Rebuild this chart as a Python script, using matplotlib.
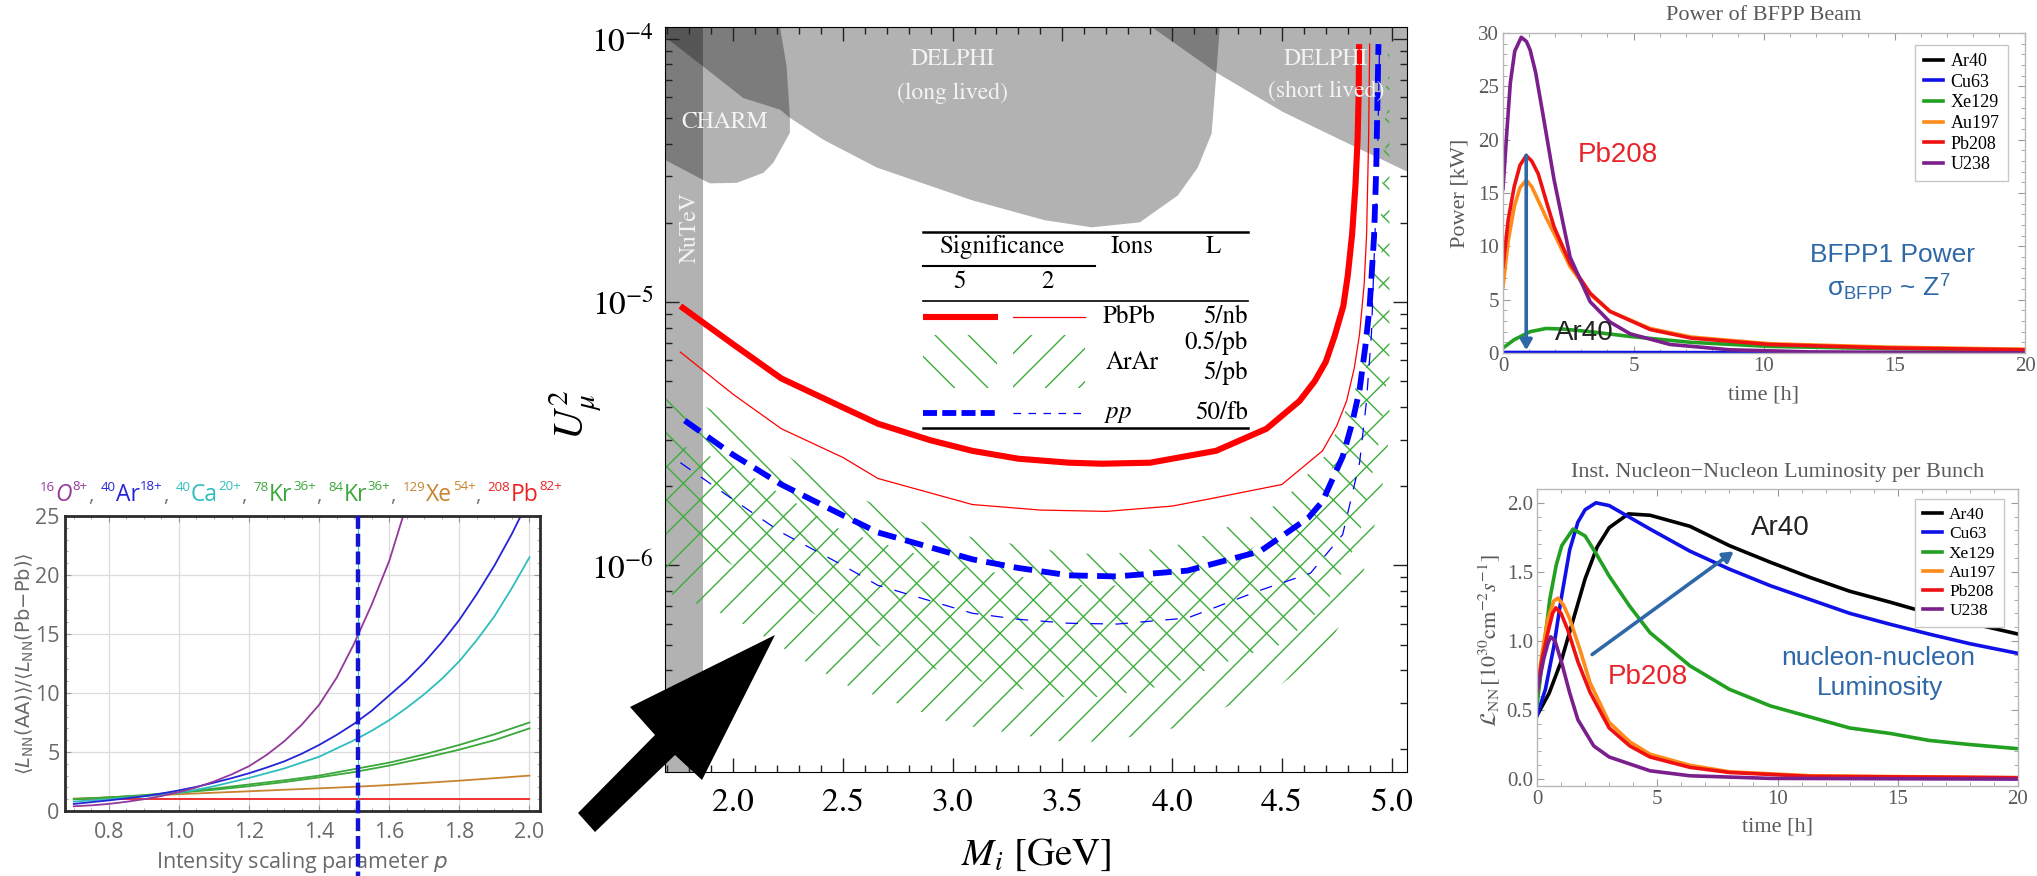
import numpy as np
import matplotlib
matplotlib.use('Agg')
import matplotlib.pyplot as plt
from matplotlib.patches import Polygon, Rectangle
from matplotlib.ticker import MultipleLocator, LogLocator, NullFormatter, FormatStrFormatter

plt.rcParams['mathtext.fontset'] = 'stix'
plt.rcParams['hatch.linewidth'] = 1.0

W, H = 2037, 876
SANS = 'Open Sans'
SERIF = 'STIXGeneral'
TIMES = 'Liberation Serif'
ARIAL = 'Liberation Sans'

# ---------- left panel: luminosity ratio vs intensity scaling p ----------
p_fine = [0.7, 0.75, 0.8, 0.85, 0.9, 0.95, 1.0, 1.05, 1.1, 1.15, 1.2, 1.25, 1.3, 1.35,
          1.4, 1.45, 1.5, 1.55, 1.6, 1.65, 1.7, 1.75, 1.8, 1.85, 1.9, 1.95, 2.0]
p_vals = [0.7, 0.8, 0.9, 1.0, 1.1, 1.2, 1.3, 1.4, 1.5, 1.6, 1.7, 1.8, 1.9, 2.0]
p_O16 = p_fine[:20]
ratio_O16 = [0.4, 0.48, 0.6, 0.78, 1.0, 1.27, 1.6, 2.0, 2.5, 3.1, 3.8, 4.75, 5.9, 7.3,
             9.0, 11.3, 14.2, 17.5, 21.2, 26.0]
ratio_Ar40 = [0.6, 0.75, 0.9, 1.07, 1.25, 1.48, 1.75, 2.05, 2.4, 2.78, 3.2, 3.68, 4.2, 4.85,
              5.6, 6.45, 7.4, 8.5, 9.8, 11.1, 12.6, 14.3, 16.2, 18.4, 20.8, 23.5, 26.5]
ratio_Ca40 = [0.8, 0.9, 1.0, 1.12, 1.25, 1.4, 1.55, 1.8, 2.1, 2.45, 2.8, 3.2, 3.6, 4.1,
              4.6, 5.3, 6.0, 6.8, 7.7, 8.75, 9.9, 11.2, 12.7, 14.5, 16.5, 18.9, 21.5]
ratio_Kr78 = [1.0, 1.15, 1.35, 1.6, 1.9, 2.25, 2.6, 3.0, 3.55, 4.1, 4.8, 5.6, 6.5, 7.5]
ratio_Kr84 = [1.0, 1.15, 1.3, 1.55, 1.8, 2.1, 2.45, 2.85, 3.3, 3.85, 4.5, 5.2, 6.0, 7.0]
ratio_Xe129 = [1.05, 1.15, 1.3, 1.42, 1.55, 1.67, 1.8, 1.92, 2.05, 2.2, 2.38, 2.57, 2.78, 3.0]
ratio_Pb208 = [1.0] * 14
p_chosen = 1.51

title_mass = ['16', '40', '40', '78', '84', '129', '208']
title_elem = ['O', 'Ar', 'Ca', 'Kr', 'Kr', 'Xe', 'Pb']
title_charge = ['8+', '18+', '20+', '36+', '36+', '54+', '82+']
title_colors = ['#93399a', '#2424d8', '#2fbdbd', '#3aa83a', '#3aa83a', '#c8832e', '#ee2222']

# ---------- center panel: U^2 sensitivity vs HNL mass (log10 values) ----------
m_pb5 = [1.76, 2.0, 2.22, 2.5, 2.66, 2.9, 3.09, 3.3, 3.53, 3.68, 3.9, 4.2, 4.43, 4.58, 4.65,
         4.70, 4.74, 4.78, 4.80, 4.82, 4.835, 4.845, 4.85, 4.852]
lu_pb5 = [-5.015, -5.16, -5.29, -5.40, -5.462, -5.525, -5.565, -5.595, -5.61, -5.614, -5.61, -5.565,
          -5.481, -5.376, -5.30, -5.227, -5.13, -5.015, -4.90, -4.742, -4.56, -4.38, -4.2, -4.02]
m_pb2 = [1.76, 2.0, 2.22, 2.5, 2.66, 3.09, 3.4, 3.70, 4.0, 4.18, 4.5, 4.685, 4.75, 4.795, 4.83,
         4.854, 4.875, 4.886, 4.895, 4.90]
lu_pb2 = [-5.19, -5.35, -5.481, -5.59, -5.67, -5.769, -5.79, -5.795, -5.775, -5.746, -5.693, -5.565,
          -5.47, -5.375, -5.25, -5.121, -4.93, -4.742, -4.383, -4.02]
m_pp5 = [1.78, 2.0, 2.22, 2.5, 2.66, 3.09, 3.3, 3.53, 3.75, 4.07, 4.40, 4.62, 4.685, 4.777, 4.82,
         4.854, 4.88, 4.90, 4.92, 4.93, 4.94]
lu_pp5 = [-5.45, -5.58, -5.693, -5.81, -5.875, -5.977, -6.01, -6.038, -6.042, -6.02, -5.947, -5.82,
          -5.757, -5.587, -5.46, -5.333, -5.17, -5.015, -4.75, -4.49, -4.02]
m_pp2 = [1.76, 2.0, 2.22, 2.5, 2.66, 3.09, 3.3, 3.53, 3.75, 4.07, 4.40, 4.63, 4.777, 4.854, 4.885,
         4.908, 4.935, 4.945]
lu_pp2 = [-5.61, -5.75, -5.875, -6.0, -6.076, -6.182, -6.205, -6.22, -6.223, -6.20, -6.095, -6.03,
          -5.883, -5.61, -5.38, -5.121, -4.49, -4.02]

m_ar = [1.69, 2.0, 2.5, 3.0, 3.5, 3.7, 4.0, 4.3, 4.5, 4.7, 4.85, 4.95, 4.99]
lu_ar5_hi = [-5.32, -5.45, -5.72, -5.88, -5.95, -5.96, -5.93, -5.84, -5.76, -5.58, -5.30, -4.7, -3.9]
lu_ar5_lo = [-5.85, -6.0, -6.25, -6.42, -6.50, -6.50, -6.45, -6.35, -6.30, -6.15, -5.9, -5.5, -5.2]
lu_ar2_hi = [-5.52, -5.62, -5.87, -6.0, -6.07, -6.08, -6.05, -5.97, -5.86, -5.68, -5.42, -4.9, -4.0]
lu_ar2_lo = [-6.1, -6.2, -6.45, -6.6, -6.67, -6.67, -6.62, -6.52, -6.45, -6.32, -6.1, -5.75, -5.5]

# excluded regions (outline vertices, mass / log10 U^2)
m_delphi_ll = [1.60, 1.686, 1.873, 2.047, 2.214, 2.259, 2.411, 2.655, 3.092, 3.42, 3.634, 3.853,
               4.026, 4.117, 4.18, 4.198, 4.217, 4.22, 1.60]
lu_delphi_ll = [-3.95, -3.99, -4.111, -4.225, -4.269, -4.30, -4.383, -4.489, -4.614, -4.689, -4.716,
                -4.697, -4.595, -4.489, -4.36, -4.17, -3.955, -3.5, -3.5]
m_delphi_sl = [3.907, 4.203, 4.503, 4.808, 5.08, 5.2, 5.2, 3.907]
lu_delphi_sl = [-3.955, -4.129, -4.277, -4.40, -4.508, -4.55, -3.5, -3.5]
m_charm = [1.60, 2.214, 2.214, 2.244, 2.259, 2.259, 2.183, 2.138, 2.017, 1.895, 1.873, 1.686, 1.60]
lu_charm = [-3.5, -3.5, -3.955, -4.105, -4.30, -4.357, -4.471, -4.509, -4.547, -4.549, -4.54, -4.458, -4.42]
m_nutev = [1.5, 1.863, 1.863, 1.5]
lu_nutev = [-8.0, -8.0, -3.0, -3.0]

# ---------- right panels: BFPP power and NN luminosity vs time ----------
ions = ['Ar40', 'Cu63', 'Xe129', 'Au197', 'Pb208', 'U238']
ion_colors = ['#000000', '#1010e8', '#22a022', '#ff8c1a', '#ee1111', '#7a1f8c']

t_pow = {
    'Ar40': [0, 5, 10, 15, 20],
    'Cu63': [0, 5, 10, 15, 20],
    'Xe129': [0, 0.43, 1.04, 1.65, 2.26, 3.34, 4.87, 7.2, 10.2, 14.8, 20],
    'Au197': [0, 0.2, 0.43, 0.65, 0.89, 1.1, 1.35, 1.65, 1.96, 2.57, 3.34, 4.1, 5.64, 7.2, 10.2, 14.8, 20],
    'Pb208': [0, 0.2, 0.43, 0.65, 0.89, 1.1, 1.35, 1.65, 1.96, 2.57, 3.34, 4.1, 5.64, 7.2, 10.2, 14.8, 20],
    'U238': [0, 0.14, 0.28, 0.45, 0.7, 0.9, 1.04, 1.25, 1.5, 1.96, 2.57, 3.34, 4.1, 4.87, 6.4, 8.7, 11.8, 20],
}
power_kw = {
    'Ar40': [0.01, 0.01, 0.01, 0.01, 0.01],
    'Cu63': [0.05, 0.04, 0.03, 0.02, 0.02],
    'Xe129': [0.47, 1.25, 2.0, 2.3, 2.25, 2.0, 1.55, 1.0, 0.62, 0.4, 0.3],
    'Au197': [6.2, 10.5, 13.7, 15.5, 16.2, 15.6, 14.3, 12.7, 11.2, 8.1, 5.5, 3.9, 2.3, 1.5, 0.87, 0.55, 0.35],
    'Pb208': [8.1, 12.5, 15.6, 17.6, 18.5, 18.0, 16.8, 14.3, 11.8, 8.4, 5.6, 3.9, 2.2, 1.4, 0.8, 0.47, 0.3],
    'U238': [15.4, 20.5, 25.3, 28.3, 29.6, 29.2, 28.4, 26.3, 22.8, 16.2, 9.0, 4.8, 2.9, 1.8, 0.8, 0.3, 0.1, 0.0],
}

t_lum = {
    'Ar40': [0, 0.5, 1.0, 1.5, 2.0, 2.5, 3.0, 3.8, 4.7, 6.36, 8.0, 9.7, 11.35, 13.0, 14.7, 16.3, 18.0, 20],
    'Cu63': [0, 0.35, 0.7, 1.0, 1.36, 1.7, 2.0, 2.45, 3.0, 3.8, 4.7, 6.36, 8.0, 9.7, 11.35, 13.0, 14.7, 16.3, 18.0, 20],
    'Xe129': [0, 0.25, 0.53, 0.8, 1.03, 1.5, 2.0, 2.5, 3.0, 3.86, 4.7, 6.36, 8.0, 9.7, 11.35, 13.0, 14.7, 16.3, 18.0, 20],
    'Au197': [0, 0.2, 0.45, 0.7, 0.87, 1.1, 1.36, 1.8, 2.2, 3.0, 3.86, 4.7, 6.36, 8.0, 11.35, 20],
    'Pb208': [0, 0.2, 0.45, 0.65, 0.78, 1.0, 1.28, 1.7, 2.2, 3.0, 3.86, 4.7, 6.36, 8.0, 11.35, 20],
    'U238': [0, 0.28, 0.45, 0.57, 0.75, 1.03, 1.35, 1.7, 2.36, 3.0, 4.7, 6.36, 9.7, 20],
}
lum_nn = {
    'Ar40': [0.46, 0.62, 0.85, 1.15, 1.45, 1.68, 1.82, 1.92, 1.91, 1.83, 1.69, 1.57, 1.46, 1.36, 1.28, 1.2, 1.13, 1.05],
    'Cu63': [0.46, 0.65, 0.96, 1.3, 1.66, 1.86, 1.95, 2.0, 1.98, 1.9, 1.81, 1.65, 1.52, 1.40, 1.30, 1.2, 1.12, 1.05, 0.98, 0.91],
    'Xe129': [0.53, 0.9, 1.3, 1.55, 1.69, 1.81, 1.76, 1.62, 1.47, 1.25, 1.06, 0.82, 0.65, 0.53, 0.45, 0.37, 0.33, 0.28, 0.25, 0.22],
    'Au197': [0.63, 0.9, 1.16, 1.29, 1.31, 1.26, 1.16, 0.93, 0.70, 0.41, 0.27, 0.18, 0.10, 0.053, 0.024, 0.01],
    'Pb208': [0.63, 0.86, 1.06, 1.2, 1.24, 1.2, 1.08, 0.85, 0.63, 0.37, 0.24, 0.16, 0.085, 0.048, 0.02, 0.01],
    'U238': [0.63, 0.87, 0.98, 1.03, 1.0, 0.84, 0.63, 0.43, 0.24, 0.16, 0.06, 0.024, 0.005, 0.0],
}


def box(l, t, r, b):
    # pixel box (left, top, right, bottom) -> figure fraction rect
    return [l / W, 1 - b / H, (r - l) / W, (b - t) / H]


fig = plt.figure(figsize=(W / 100, H / 100), dpi=100)
fig.patch.set_facecolor('white')

# ================= left panel =================
GRAYT = '#6a6a6a'
axl = fig.add_axes(box(65, 516, 540, 811))
axl.plot(p_vals, ratio_Pb208, color=title_colors[6], lw=1.3)
axl.plot(p_vals, ratio_Xe129, color=title_colors[5], lw=1.3)
axl.plot(p_vals, ratio_Kr84, color=title_colors[4], lw=1.3)
axl.plot(p_vals, ratio_Kr78, color=title_colors[3], lw=1.3)
axl.plot(p_fine, ratio_Ca40, color=title_colors[2], lw=1.3)
axl.plot(p_fine, ratio_Ar40, color=title_colors[1], lw=1.3)
axl.plot(p_O16, ratio_O16, color=title_colors[0], lw=1.3)
axl.axvline(p_chosen, color='#2ec4d6', lw=0.8)
axl.plot([p_chosen, p_chosen], [25, -5.6], color='#1414d0', lw=3.2, ls=(0, (2.9, 1.1)), clip_on=False, zorder=6)
axl.set_xlim(0.675, 2.03)
axl.set_ylim(0, 25)
axl.xaxis.set_major_locator(MultipleLocator(0.2))
axl.xaxis.set_minor_locator(MultipleLocator(0.05))
axl.xaxis.set_major_formatter(FormatStrFormatter('%.1f'))
axl.yaxis.set_major_locator(MultipleLocator(5))
axl.yaxis.set_minor_locator(MultipleLocator(1))
axl.grid(True, which='major', color='#dcdcdc', lw=0.9)
axl.tick_params(which='both', direction='in', top=True, right=True, color='#999999',
                labelcolor=GRAYT, labelsize=15.5, labelfontfamily=SANS)
axl.tick_params(which='major', length=4, pad=8)
axl.tick_params(which='minor', length=2)
axl.tick_params(axis='y', pad=4)
for s in axl.spines.values():
    s.set_color('#2b2b2b')
    s.set_linewidth(2.0)
axl.set_xlabel('Intensity scaling parameter $p$', fontsize=15.5, color=GRAYT, family=SANS,
               math_fontfamily='dejavusans', va='center')
axl.xaxis.set_label_coords(0.499, -0.176)
axl.set_ylabel(r'$\langle L_{\mathrm{NN}}(\mathrm{AA})\rangle/\langle L_{\mathrm{NN}}(\mathrm{Pb{-}Pb})\rangle$',
               fontsize=14, color=GRAYT, math_fontfamily='dejavusans', va='center')
axl.yaxis.set_label_coords(-0.084, 0.498)

# coloured title row, built piece by piece and centred over the panel
rend = fig.canvas.get_renderer()
pieces = []
for i in range(len(title_elem)):
    col = title_colors[i]
    pieces.append((title_mass[i], col, 9.5, -10, 'normal', 0.5))
    pieces.append((title_elem[i], col, 16.5, 0, 'italic' if title_elem[i] == 'O' else 'normal', 0.5))
    pieces.append((title_charge[i], col, 9.5, -11, 'normal', 0))
    if i < len(title_elem) - 1:
        pieces.append((',', '#777777', 15, 0, 'normal', 7))
widths = []
for s, col, fs, dy, st, gap in pieces:
    t = fig.text(0, 0, s, fontsize=fs, family=SANS, style=st)
    widths.append(t.get_window_extent(rend).width + gap)
    t.remove()
x = 301.0 - sum(widths) / 2
base = 501.0
for (s, col, fs, dy, st, gap), w in zip(pieces, widths):
    fig.text(x / W, 1 - (base + dy) / H, s, color=col, fontsize=fs, family=SANS, style=st, va='baseline')
    x += w

# ================= center panel =================
GREEN = '#3dad3d'
axc = fig.add_axes(box(665, 27, 1407, 772))
axc.set_yscale('log')
shade = dict(facecolor='black', alpha=0.30, lw=0, zorder=1)
axc.fill(m_nutev, 10.0 ** np.array(lu_nutev), **shade)
axc.fill(m_charm, 10.0 ** np.array(lu_charm), **shade)
axc.fill(m_delphi_ll, 10.0 ** np.array(lu_delphi_ll), **shade)
axc.fill(m_delphi_sl, 10.0 ** np.array(lu_delphi_sl), **shade)

axc.fill_between(m_ar, 10.0 ** np.array(lu_ar5_lo), 10.0 ** np.array(lu_ar5_hi), facecolor='none',
                 edgecolor=GREEN, hatch='\\', lw=0, zorder=2)
axc.fill_between(m_ar, 10.0 ** np.array(lu_ar2_lo), 10.0 ** np.array(lu_ar2_hi), facecolor='none',
                 edgecolor=GREEN, hatch='/', lw=0, zorder=2)

axc.plot(m_pb5, 10.0 ** np.array(lu_pb5), color='#ff0000', lw=4.4, zorder=4, solid_capstyle='butt')
axc.plot(m_pb2, 10.0 ** np.array(lu_pb2), color='#ff0000', lw=0.9, zorder=4)
axc.plot(m_pp5, 10.0 ** np.array(lu_pp5), color='#0000ff', lw=4.2, ls=(0, (3.2, 1.6)), zorder=4)
axc.plot(m_pp2, 10.0 ** np.array(lu_pp2), color='#0000ff', lw=0.9, ls=(0, (10, 10)), zorder=4)

axc.set_xlim(1.69, 5.07)
axc.set_ylim(10 ** -6.785, 10 ** -3.955)
axc.set_yticks([1e-4, 1e-5, 1e-6], labels=[r'$10^{-4}$', r'$10^{-5}$', r'$10^{-6}$'])
axc.yaxis.set_minor_locator(LogLocator(base=10, subs=np.arange(2, 10)))
axc.yaxis.set_minor_formatter(NullFormatter())
axc.xaxis.set_major_locator(MultipleLocator(0.5))
axc.xaxis.set_minor_locator(MultipleLocator(0.1))
axc.xaxis.set_major_formatter(FormatStrFormatter('%.1f'))
axc.tick_params(which='both', direction='in', top=True, right=True, labelsize=24,
                labelfontfamily=SERIF, color='#222222', width=1.0)
axc.tick_params(which='major', length=10)
axc.tick_params(which='minor', length=5)
axc.tick_params(axis='x', pad=12)
axc.tick_params(axis='y', pad=8)
axc.set_xlabel(r'$M_i$ [GeV]', fontsize=28, family=SERIF, va='center')
axc.xaxis.set_label_coords(0.5, -0.111)
axc.set_ylabel(r'$U_\mu^2$', fontsize=30, va='center', rotation=90)
axc.yaxis.set_label_coords(-0.121, 0.479)

lab = dict(color='#f4f4f4', family=SERIF, fontsize=17, ha='center', va='center', zorder=5)
axc.text(1.96, 10 ** -4.318, 'CHARM', **lab)
axc.text(3.0, 10 ** -4.076, 'DELPHI', **lab)
axc.text(3.0, 10 ** -4.208, '(long lived)', **lab)
axc.text(4.70, 10 ** -4.076, 'DELPHI', **lab)
axc.text(4.70, 10 ** -4.200, '(short lived)', **lab)
axc.text(1.804, 10 ** -4.716, 'NuTeV', rotation=90, **lab)

# ================= right top panel =================
GRAYL = '#5a5a5a'


def frame_style(ax):
    for s in ax.spines.values():
        s.set_color('#b8b8b8')
        s.set_linewidth(1.0)
    ax.tick_params(which='both', direction='in', top=True, right=True, color='#9a9a9a',
                   labelcolor=GRAYL, labelsize=15, labelfontfamily=TIMES, pad=3)
    ax.tick_params(which='major', length=5)
    ax.tick_params(which='minor', length=3)


axp = fig.add_axes(box(1503, 33, 2025, 353))
for ion, col in zip(ions, ion_colors):
    axp.plot(t_pow[ion], power_kw[ion], color=col, lw=2.6, label=ion)
axp.set_xlim(0, 20)
axp.set_ylim(0, 30)
axp.xaxis.set_major_locator(MultipleLocator(5))
axp.xaxis.set_minor_locator(MultipleLocator(1))
axp.yaxis.set_major_locator(MultipleLocator(5))
axp.yaxis.set_minor_locator(MultipleLocator(1))
frame_style(axp)
axp.text(0.5, 1.056, 'Power of BFPP Beam', transform=axp.transAxes, ha='center', va='center',
         family=TIMES, fontsize=16, color=GRAYL)
axp.set_xlabel('time [h]', family=TIMES, fontsize=16, color=GRAYL, va='center')
axp.xaxis.set_label_coords(0.5, -0.131)
axp.set_ylabel('Power [kW]', family=TIMES, fontsize=16, color=GRAYL, va='center')
axp.yaxis.set_label_coords(-0.082, 0.5)
axp.legend(loc='upper right', bbox_to_anchor=(0.967, 0.9625), prop={'family': TIMES, 'size': 13},
           fancybox=False, edgecolor='#c8c8c8', handlelength=1.1, handletextpad=0.4,
           labelspacing=0.2, borderpad=0.45, borderaxespad=0, framealpha=1)
ANN_BLUE = '#2f68a8'
axp.annotate('', xy=(0.89, 0.0), xytext=(0.89, 18.8),
             arrowprops=dict(arrowstyle='-|>,head_length=0.6,head_width=0.35', color=ANN_BLUE, lw=2.6))
axp.text(4.41, 18.56, 'Pb208', color='#e8242a', family=ARIAL, fontsize=20, ha='center', va='center')
axp.text(14.94, 9.18, 'BFPP1 Power', color=ANN_BLUE, family=ARIAL, fontsize=19, ha='center', va='center')
axp.text(14.79, 6.19, r'$\mathregular{\sigma_{BFPP}}$ ~ Z$^{\mathregular{7}}$', color=ANN_BLUE, family=ARIAL,
         fontsize=19, ha='center', va='center')
axp.text(3.1, 1.87, 'Ar40', color='#222222', family=ARIAL, fontsize=20, ha='center', va='center')

# ================= right bottom panel =================
axn = fig.add_axes(box(1537, 489, 2018, 786))
for ion, col in zip(ions, ion_colors):
    axn.plot(t_lum[ion], lum_nn[ion], color=col, lw=2.6, label=ion)
axn.set_xlim(0, 20)
axn.set_ylim(-0.05, 2.1)
axn.xaxis.set_major_locator(MultipleLocator(5))
axn.xaxis.set_minor_locator(MultipleLocator(1))
axn.yaxis.set_major_locator(MultipleLocator(0.5))
axn.yaxis.set_minor_locator(MultipleLocator(0.1))
axn.yaxis.set_major_formatter(FormatStrFormatter('%.1f'))
frame_style(axn)
axn.text(0.5, 1.057, 'Inst. Nucleon\u2212Nucleon Luminosity per Bunch', transform=axn.transAxes,
         ha='center', va='center', family=TIMES, fontsize=16, color=GRAYL)
axn.set_xlabel('time [h]', family=TIMES, fontsize=16, color=GRAYL, va='center')
axn.xaxis.set_label_coords(0.5, -0.138)
axn.set_ylabel(r'$\mathcal{L}_{\mathrm{NN}}\,[10^{30}\mathrm{cm}^{-2}s^{-1}]$', fontsize=16, color=GRAYL,
               va='center')
axn.yaxis.set_label_coords(-0.098, 0.49)
axn.legend(loc='upper right', bbox_to_anchor=(0.971, 0.966), prop={'family': TIMES, 'size': 12.5},
           fancybox=False, edgecolor='#c8c8c8', handlelength=1.1, handletextpad=0.4,
           labelspacing=0.18, borderpad=0.45, borderaxespad=0, framealpha=1)
axn.annotate('', xy=(8.27, 1.66), xytext=(2.2, 0.89),
             arrowprops=dict(arrowstyle='-|>,head_length=0.6,head_width=0.35', color=ANN_BLUE, lw=2.6))
axn.text(10.1, 1.82, 'Ar40', color='#222222', family=ARIAL, fontsize=20, ha='center', va='center')
axn.text(4.62, 0.74, 'Pb208', color='#e8242a', family=ARIAL, fontsize=20, ha='center', va='center')
axn.text(14.18, 0.876, 'nucleon-nucleon', color=ANN_BLUE, family=ARIAL, fontsize=19, ha='center', va='center')
axn.text(14.26, 0.659, 'Luminosity', color=ANN_BLUE, family=ARIAL, fontsize=19, ha='center', va='center')

# ================= overlay: legend table and big arrow (pixel coords) =================
ov = fig.add_axes([0, 0, 1, 1], zorder=10)
ov.set_xlim(0, W)
ov.set_ylim(H, 0)
ov.axis('off')

ov.add_patch(Polygon([(578, 813), (655, 735), (630, 707), (775, 635), (702, 780), (675, 755), (595, 832)],
                     closed=True, facecolor='black', edgecolor='none'))

tx = dict(family=SERIF, fontsize=18, va='center')
ov.plot([923, 1248], [232, 232], color='k', lw=1.8)
ov.text(1003, 247, 'Significance', ha='center', **tx)
ov.text(1132, 247, 'Ions', ha='center', **tx)
ov.text(1213, 247, 'L', ha='center', **tx)
ov.plot([923, 1095], [266, 266], color='k', lw=1.5)
ov.text(960, 282, '5', ha='center', **tx)
ov.text(1048, 282, '2', ha='center', **tx)
ov.plot([923, 1248], [301, 301], color='k', lw=1.2)
ov.plot([923, 998], [317, 317], color='#ff0000', lw=4.4, solid_capstyle='butt')
ov.plot([1013, 1085], [317, 317], color='#ff0000', lw=0.9)
ov.text(1103, 317, 'PbPb', ha='left', **tx)
ov.text(1248, 317, '5/nb', ha='right', **tx)
ov.add_patch(Rectangle((923, 335), 74, 53, facecolor='none', edgecolor=GREEN, hatch='\\', lw=0))
ov.add_patch(Rectangle((1013, 335), 72, 53, facecolor='none', edgecolor=GREEN, hatch='/', lw=0))
ov.text(1132, 363, 'ArAr', ha='center', **tx)
ov.text(1248, 343, '0.5/pb', ha='right', **tx)
ov.text(1248, 373, '5/pb', ha='right', **tx)
ov.plot([923, 998], [413, 413], color='#0000ff', lw=4.2, ls=(0, (2.4, 0.9)))
ov.plot([1013, 1085], [413, 413], color='#0000ff', lw=0.9, ls=(0, (6, 6)))
ov.text(1118, 413, '$pp$', ha='center', **tx)
ov.text(1248, 413, '50/fb', ha='right', **tx)
ov.plot([923, 1248], [428, 428], color='k', lw=1.8)

fig.savefig('out.png', dpi=100, facecolor='white')
